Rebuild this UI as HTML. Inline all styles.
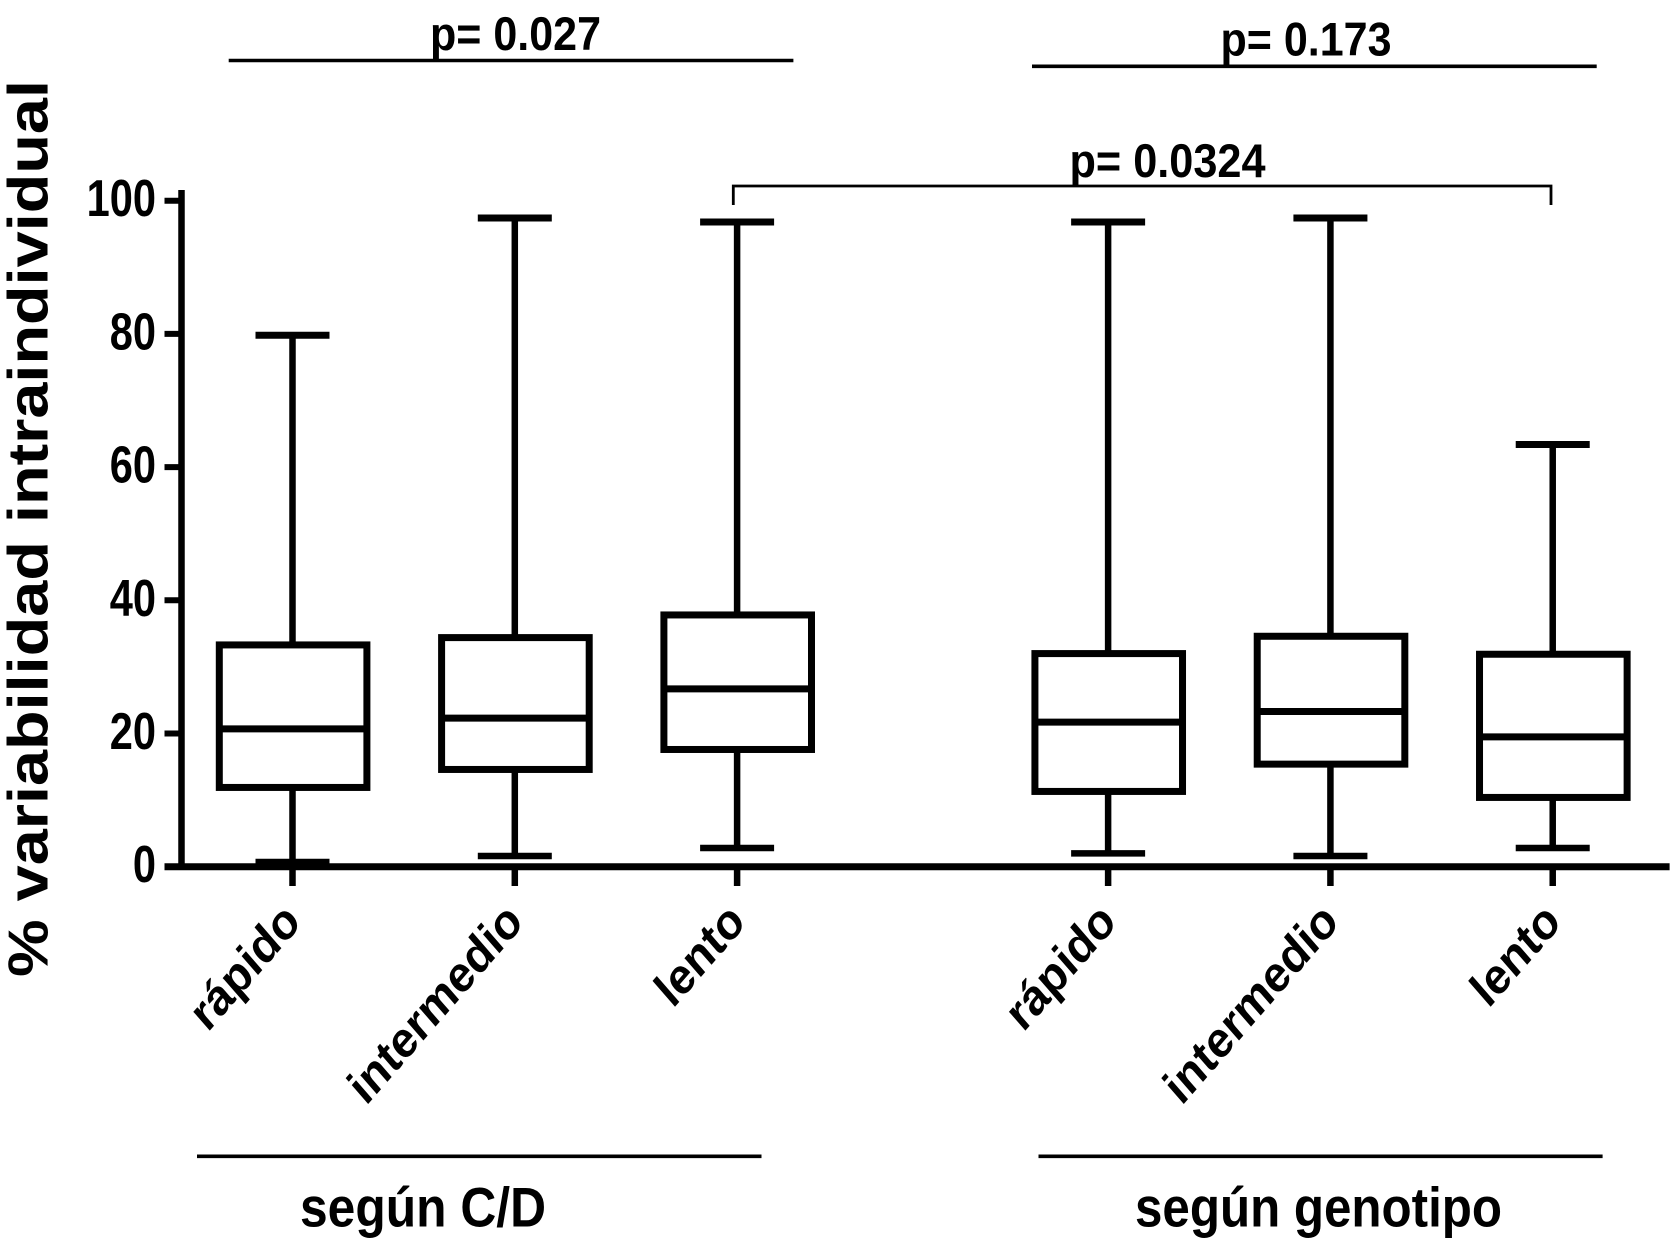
<!DOCTYPE html>
<html>
<head>
<meta charset="utf-8">
<title>Variabilidad intraindividual</title>
<style>
html,body{margin:0;padding:0;background:#fff;width:1675px;height:1254px;overflow:hidden}
svg{display:block}
text{font-family:"Liberation Sans",Arial,sans-serif;font-weight:bold;fill:#000}
</style>
</head>
<body>
<svg id="chart" xmlns="http://www.w3.org/2000/svg" width="1675" height="1254" viewBox="0 0 1675 1254">
  <rect x="0" y="0" width="1675" height="1254" fill="#fff"/>
  <g id="marks"></g>

  <text transform="translate(47.5,977) rotate(-90) scale(1,0.88)" font-size="64.5" textLength="897" lengthAdjust="spacingAndGlyphs">% variabilidad intraindividual</text>

  <line x1="228.7" y1="60.5" x2="793.4" y2="60.5" stroke="#000" stroke-width="3.6"/>
  <text x="430" y="50" font-size="47" textLength="171" lengthAdjust="spacingAndGlyphs">p= 0.027</text>
  <line x1="1032" y1="66.3" x2="1596.7" y2="66.3" stroke="#000" stroke-width="3.6"/>
  <text x="1220.5" y="55.5" font-size="47" textLength="171" lengthAdjust="spacingAndGlyphs">p= 0.173</text>
  <path d="M733.3 205V186H1551V205" fill="none" stroke="#000" stroke-width="2.8"/>
  <text x="1069.5" y="177" font-size="47" textLength="196" lengthAdjust="spacingAndGlyphs">p= 0.0324</text>

  <line x1="197" y1="1156.3" x2="761.5" y2="1156.3" stroke="#000" stroke-width="3.6"/>
  <text x="300" y="1226.7" font-size="56" textLength="246" lengthAdjust="spacingAndGlyphs">según C/D</text>
  <line x1="1038.5" y1="1156.3" x2="1602.6" y2="1156.3" stroke="#000" stroke-width="3.6"/>
  <text x="1135" y="1226.7" font-size="56" textLength="367" lengthAdjust="spacingAndGlyphs">según genotipo</text>
</svg>
<script>
var categories = ["rápido", "intermedio", "lento", "rápido", "intermedio", "lento"];
var whiskerHigh = [79.8, 97.4, 96.8, 96.8, 97.4, 63.4];
var upperQuartile = [33.3, 34.4, 37.8, 32.0, 34.6, 31.9];
var medianValue = [20.7, 22.3, 26.7, 21.7, 23.3, 19.5];
var lowerQuartile = [11.9, 14.6, 17.6, 11.3, 15.4, 10.4];
var whiskerLow = [0.7, 1.6, 2.8, 2.0, 1.6, 2.8];
var yTickLabels = [0, 20, 40, 60, 80, 100];

var NS = "http://www.w3.org/2000/svg";
var marks = document.getElementById("marks");
var INK = "#000";

function yScale(v) { return 866.7 - 6.66 * v; }
function xScale(i) { return 292.5 + 222.3 * (i + (i >= 3 ? 0.669 : 0)); }

function make(tag, attrs) {
  var el = document.createElementNS(NS, tag);
  for (var k in attrs) { el.setAttribute(k, attrs[k]); }
  return el;
}
function rule(x1, y1, x2, y2, w) {
  return make("line", { x1: x1, y1: y1, x2: x2, y2: y2, stroke: INK, "stroke-width": w });
}

// Box plots
categories.forEach(function (name, i) {
  var cx = xScale(i);
  var g = make("g", {});
  
  

  var upper = rule(cx, yScale(whiskerHigh[i]), cx, yScale(upperQuartile[i]), 6.5);
  
  
  g.appendChild(upper);

  var lower = rule(cx, yScale(lowerQuartile[i]), cx, yScale(whiskerLow[i]), 6.5);
  
  
  g.appendChild(lower);

  var capHigh = rule(cx - 37, yScale(whiskerHigh[i]), cx + 37, yScale(whiskerHigh[i]), 7);
  
  
  g.appendChild(capHigh);

  var capLow = rule(cx - 37, yScale(whiskerLow[i]), cx + 37, yScale(whiskerLow[i]), 6.5);
  
  
  g.appendChild(capLow);

  var box = make("rect", {
    x: cx - 73.2,
    y: yScale(upperQuartile[i]),
    width: 147.6,
    height: yScale(lowerQuartile[i]) - yScale(upperQuartile[i]),
    fill: "#fff",
    stroke: INK,
    "stroke-width": 7
  });
  
  
  g.appendChild(box);

  var med = rule(cx - 73.2, yScale(medianValue[i]), cx + 74.4, yScale(medianValue[i]), 7);
  
  
  g.appendChild(med);

  marks.appendChild(g);
});

// Y axis
var yAxis = rule(181.5, 190, 181.5, 870, 6.5);


marks.appendChild(yAxis);

yTickLabels.forEach(function (v) {
  var y = yScale(v);
  var tick = rule(164.5, y, 181.5, y, 6);
  
  
  marks.appendChild(tick);

  var label = make("text", {
    transform: "translate(156," + (y + 15.5) + ") scale(0.8,1)",
    "font-size": 52,
    "text-anchor": "end"
  });
  
  
  label.textContent = v;
  marks.appendChild(label);
});

// X axis
var xAxis = rule(164.5, 866.7, 1669.6, 866.7, 7);


marks.appendChild(xAxis);

categories.forEach(function (name, i) {
  var cx = xScale(i);
  var tick = rule(cx, 866.7, cx, 886, 6.5);
  
  
  marks.appendChild(tick);

  var label = make("text", {
    transform: "translate(" + (cx + 10) + ",924) scale(0.87,1) rotate(-45)",
    "font-size": 50.5,
    "text-anchor": "end"
  });
  
  
  label.textContent = name;
  marks.appendChild(label);
});
</script>
</body>
</html>
